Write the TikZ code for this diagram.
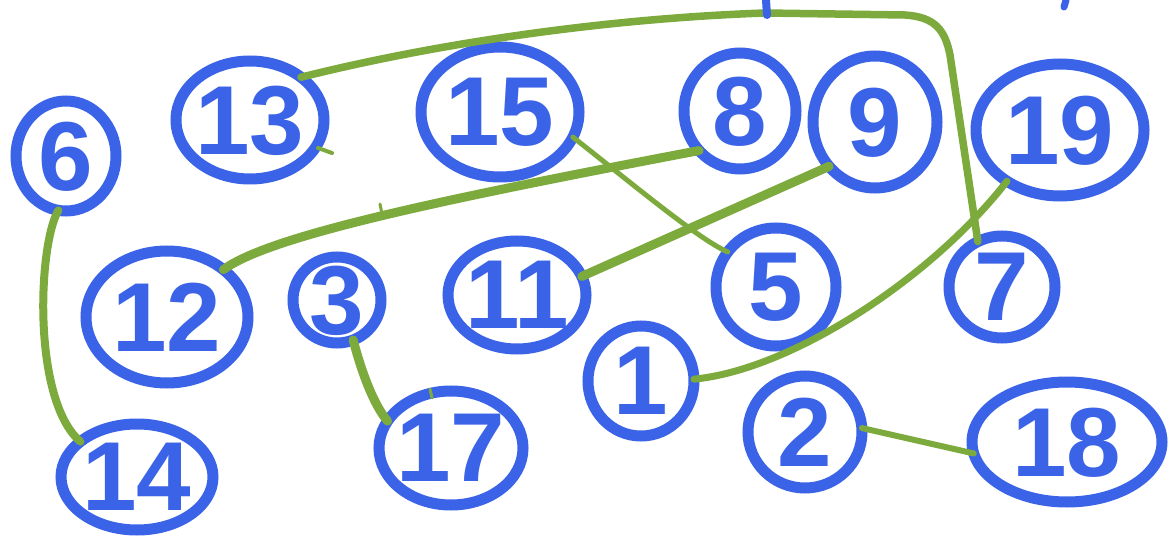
\documentclass[tikz,border=0pt]{standalone}
\usepackage{fontspec}
\setmainfont{Liberation Sans}
\usetikzlibrary{shapes.geometric}
\definecolor{pen}{HTML}{3B63E8}
\definecolor{mark}{HTML}{7DAA3C}
\newcommand{\nlbl}[1]{\makebox[0pt]{\smash{\raisebox{-.5\height}{#1}}}}
\tikzset{
  vtx/.style={ellipse, draw=pen, line width=11pt, inner sep=0pt, outer sep=0pt,
    text=pen, font=\fontsize{98}{98}\selectfont\bfseries},
  edge/.style={draw=mark, line width=8pt, line cap=round},
  tick/.style={draw=mark, line width=4pt, line cap=round},
  stub/.style={draw=pen, line width=8pt, line cap=round},
}
\begin{document}
\begin{tikzpicture}[x=1pt,y=-1pt]
\useasboundingbox (0,0) rectangle (1168,540);
\fill[white] (0,0) rectangle (1168,540);

% nodes
\node[vtx, minimum width=100pt, minimum height=110pt] (n6)  at (66,156)   {\nlbl{6}};
\node[vtx, minimum width=148pt, minimum height=118pt] (n13) at (250,120)  {\nlbl{13}};
\node[vtx, minimum width=158pt, minimum height=130pt] (n15) at (500,112)  {\nlbl{15}};
\node[vtx, minimum width=112pt, minimum height=116pt] (n8)  at (740,111)  {\nlbl{8}};
\node[vtx, minimum width=124pt, minimum height=132pt] (n9)  at (875,122)  {\nlbl{9}};
\node[vtx, minimum width=168pt, minimum height=132pt] (n19) at (1060,130) {\nlbl{19}};
\node[vtx, minimum width=162pt, minimum height=132pt] (n12) at (167,317)  {\nlbl{12}};
\node[vtx, minimum width=88pt,  minimum height=86pt]  (n3)  at (337,300)  {\nlbl{3}};
\node[vtx, minimum width=138pt, minimum height=108pt] (n11) at (517,295)  {\nlbl{11}};
\node[vtx, minimum width=120pt, minimum height=118pt] (n5)  at (776,287)  {\nlbl{5}};
\node[vtx, minimum width=106pt, minimum height=102pt] (n7)  at (1002,287) {\nlbl{7}};
\node[vtx, minimum width=106pt, minimum height=110pt] (n1)  at (641,381)  {\nlbl{1}};
\node[vtx, minimum width=144pt, minimum height=114pt] (n17) at (451,448)  {\nlbl{17}};
\node[vtx, minimum width=114pt, minimum height=112pt] (n2)  at (805,432)  {\nlbl{2}};
\node[vtx, minimum width=190pt, minimum height=120pt] (n18) at (1067,442) {\nlbl{18}};
\node[vtx, minimum width=152pt, minimum height=106pt] (n14) at (137,477)  {\nlbl{14}};

% connectors
\draw[edge, line width=7.5pt] (n13.40) .. controls (450,40) and (620,18) .. (765,13)
  -- (905,15) .. controls (935,17) and (945,30) .. (950,55) -- (n7.118);
\draw[edge, line width=9pt] (n12.40) .. controls (270,235) and (450,198) .. (n8.224);
\draw[edge, line width=9pt] (n11.16) -- (n9.224);
\draw[edge, line width=5pt] (n15.341) .. controls (640,190) and (700,240) .. (n5.144);
\draw[edge, line width=7pt] (n1.2) .. controls (790,370) and (930,280) .. (n19.224);
\draw[edge, line width=8pt] (n6.262) .. controls (38,245) and (32,400) .. (n14.148);
\draw[edge, line width=9pt] (n3.292) .. controls (365,385) and (378,410) .. (n17.157);
\draw[edge, line width=6pt] (n2.4) -- (n18.187);

% small marks
\draw[tick] (318,148) -- (332,153);
\draw[tick, line width=3pt] (380,204) -- (382,214);
\draw[tick, line width=3pt] (430,389) -- (432,398);
\draw[stub] (766,0) -- (767,15);
\draw[stub, line width=7pt] (1066,0) -- (1064,7);
\end{tikzpicture}
\end{document}
